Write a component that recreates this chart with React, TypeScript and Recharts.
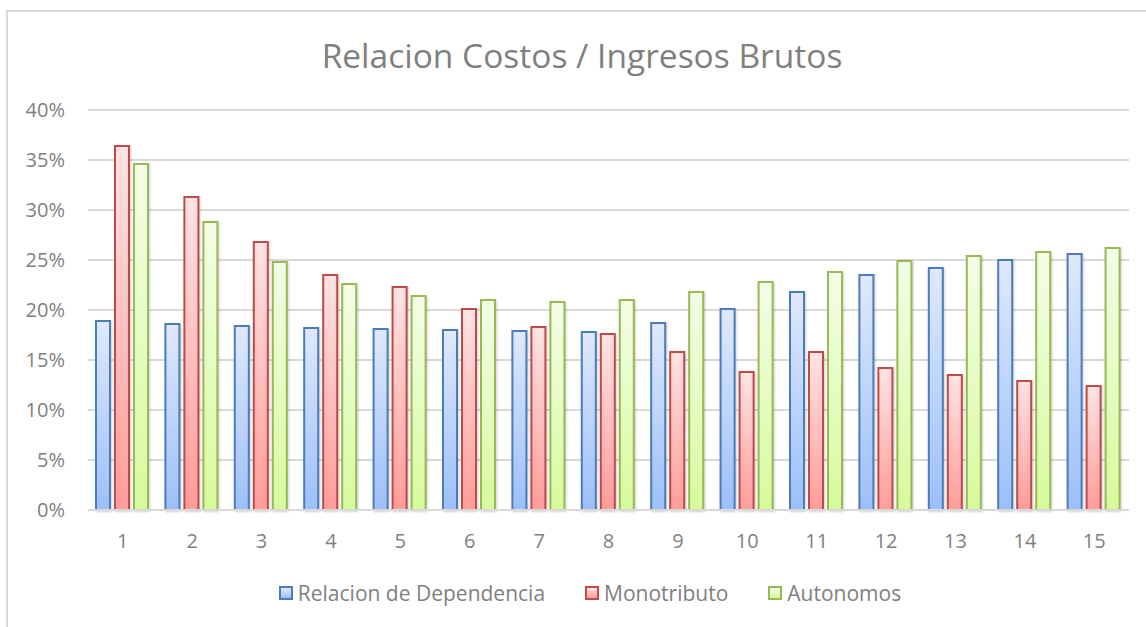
import { Bar, BarChart, CartesianGrid, Legend, XAxis, YAxis } from "recharts";

const categories = ["1", "2", "3", "4", "5", "6", "7", "8", "9", "10", "11", "12", "13", "14", "15"];
const dependencia = [18.9, 18.6, 18.4, 18.2, 18.1, 18.0, 17.9, 17.8, 18.7, 20.1, 21.8, 23.5, 24.2, 25.0, 25.6];
const monotributo = [36.4, 31.3, 26.8, 23.5, 22.3, 20.1, 18.3, 17.6, 15.8, 13.8, 15.8, 14.2, 13.5, 12.9, 12.4];
const autonomos = [34.6, 28.8, 24.8, 22.6, 21.4, 21.0, 20.8, 21.0, 21.8, 22.8, 23.8, 24.9, 25.4, 25.8, 26.2];
const yTicks = [0, 5, 10, 15, 20, 25, 30, 35, 40];

const data = categories.map((c, i) => ({
  cat: c,
  dep: dependencia[i],
  mono: monotributo[i],
  auto: autonomos[i],
}));

const font = '"Open Sans", sans-serif';
const textColor = "#7f7f7f";
const gridColor = "#d9d9d9";

const series = [
  { key: "dep", name: "Relacion de Dependencia", stroke: "#4a7ebb", top: "#dfe9fc", bottom: "#9dbff8" },
  { key: "mono", name: "Monotributo", stroke: "#be4b48", top: "#ffe3e3", bottom: "#ff9c99" },
  { key: "auto", name: "Autonomos", stroke: "#98b954", top: "#f4fde8", bottom: "#d7fa9d" },
];

const LegendContent = () => (
  <div
    style={{
      display: "flex",
      justifyContent: "center",
      gap: 40,
      paddingLeft: 34,
      fontFamily: font,
      fontSize: 21,
      color: textColor,
    }}
  >
    {series.map((s) => (
      <div key={s.key} style={{ display: "flex", alignItems: "center", gap: 5 }}>
        <div
          style={{
            width: 10,
            height: 10,
            border: `2px solid ${s.stroke}`,
            background: `linear-gradient(${s.top}, ${s.bottom})`,
          }}
        />
        <span>{s.name}</span>
      </div>
    ))}
  </div>
);

export default function App() {
  return (
    <div
      style={{
        position: "absolute",
        left: 0,
        top: 0,
        width: 1146,
        height: 627,
        background: "#fff",
        overflow: "hidden",
      }}
    >
      {/* chart frame, only top and left edges show */}
      <div
        style={{
          position: "absolute",
          left: 6,
          top: 10,
          width: 1160,
          height: 640,
          borderTop: `2px solid ${gridColor}`,
          borderLeft: `2px solid ${gridColor}`,
        }}
      />
      <div
        style={{
          position: "absolute",
          left: 0,
          top: 32,
          width: 1164,
          textAlign: "center",
          fontFamily: font,
          fontSize: 33.5,
          color: textColor,
        }}
      >
        Relacion Costos / Ingresos Brutos
      </div>
      <div style={{ position: "absolute", left: 0, top: 0 }}>
        <BarChart
          width={1146}
          height={627}
          data={data}
          barCategoryGap={8}
          barGap={5}
          margin={{ top: 110, right: 17, bottom: 76, left: 0 }}
        >
          <defs>
            {series.map((s) => (
              <linearGradient key={s.key} id={`g-${s.key}`} x1="0" y1="0" x2="0" y2="1">
                <stop offset="0%" stopColor={s.top} />
                <stop offset="100%" stopColor={s.bottom} />
              </linearGradient>
            ))}
          </defs>
          <CartesianGrid vertical={false} stroke={gridColor} strokeWidth={2} />
          <XAxis
            dataKey="cat"
            tickLine={false}
            axisLine={{ stroke: gridColor, strokeWidth: 2 }}
            tickSize={0}
            tickMargin={24}
            height={41}
            tick={{ fontSize: 20, fill: textColor, fontFamily: font }}
          />
          <YAxis
            domain={[0, 40]}
            ticks={yTicks}
            tickLine={false}
            axisLine={false}
            tickSize={0}
            tickMargin={23}
            width={88}
            tickFormatter={(v: number) => `${v}%`}
            tick={{ fontSize: 20, fill: textColor, fontFamily: font }}
          />
          <Legend
            verticalAlign="middle"
            content={<LegendContent />}
            wrapperStyle={{ top: 579, left: 0, width: 1146 }}
          />
          {series.map((s) => (
            <Bar
              key={s.key}
              dataKey={s.key}
              name={s.name}
              fill={`url(#g-${s.key})`}
              stroke={s.stroke}
              strokeWidth={2}
              isAnimationActive={false}
              style={{ filter: "drop-shadow(1px 1px 1px rgba(0,0,0,0.18))" }}
            />
          ))}
        </BarChart>
      </div>
    </div>
  );
}
